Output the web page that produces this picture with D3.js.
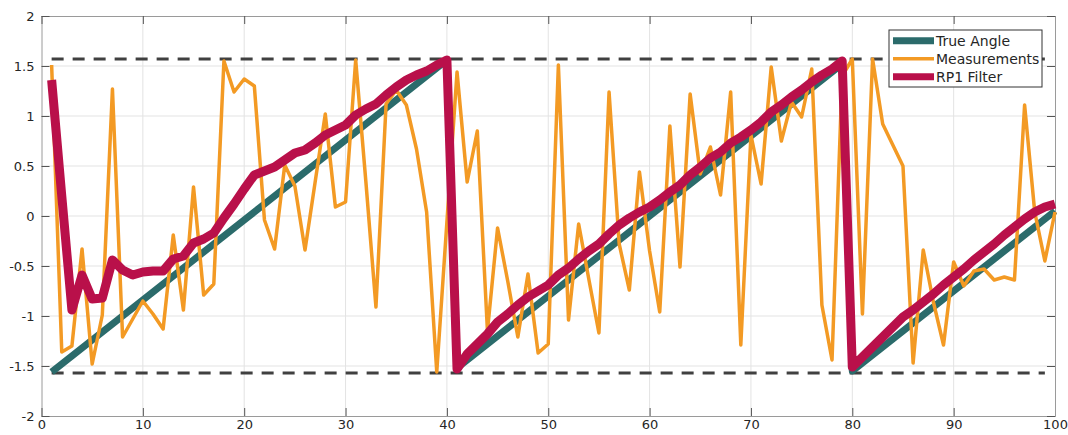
<!DOCTYPE html>
<html>
<head>
<meta charset="utf-8">
<script src="https://cdn.jsdelivr.net/npm/d3@7"></script>
<style>
  body { margin: 0; background: #fff; }
  svg text { font-family: "DejaVu Sans", sans-serif; }
</style>
</head>
<body>
<svg id="chart" width="1068" height="435"></svg>
<script>
// data
const steps = d3.range(1, 101);

const trueAngle = [
  -1.56, -1.48, -1.40, -1.32, -1.24, -1.16, -1.08, -1.00, -0.92, -0.84,
  -0.76, -0.68, -0.60, -0.52, -0.44, -0.36, -0.28, -0.20, -0.12, -0.04,
  0.04, 0.12, 0.20, 0.28, 0.36, 0.44, 0.52, 0.60, 0.68, 0.76,
  0.84, 0.92, 1.00, 1.08, 1.16, 1.24, 1.32, 1.40, 1.48, 1.56,
  -1.52, -1.44, -1.36, -1.28, -1.20, -1.12, -1.04, -0.96, -0.88, -0.80,
  -0.72, -0.64, -0.56, -0.48, -0.40, -0.32, -0.24, -0.16, -0.08, 0.00,
  0.08, 0.16, 0.24, 0.32, 0.40, 0.48, 0.56, 0.64, 0.72, 0.80,
  0.88, 0.96, 1.04, 1.12, 1.20, 1.28, 1.36, 1.44, 1.52, -1.55,
  -1.47, -1.39, -1.31, -1.23, -1.15, -1.07, -0.99, -0.91, -0.83, -0.75,
  -0.67, -0.59, -0.51, -0.43, -0.35, -0.27, -0.19, -0.11, -0.03, 0.05
];

const measurements = [
  1.51, -1.36, -1.30, -0.33, -1.48, -0.99, 1.27, -1.21, -1.03, -0.85,
  -0.98, -1.13, -0.19, -0.94, 0.29, -0.79, -0.68, 1.55, 1.24, 1.37,
  1.30, -0.04, -0.33, 0.51, 0.30, -0.34, 0.34, 1.02, 0.09, 0.14,
  1.56, 0.35, -0.91, 1.12, 1.26, 1.11, 0.67, 0.04, -1.56, -0.06,
  1.44, 0.34, 0.85, -1.15, -0.12, -0.65, -1.21, -0.58, -1.37, -1.28,
  1.51, -1.04, -0.08, -0.63, -1.17, 1.24, -0.28, -0.74, 0.44, -0.35,
  -0.96, 0.90, -0.51, 1.22, 0.42, 0.69, 0.21, 1.24, -1.29, 0.81,
  0.32, 1.49, 0.75, 1.14, 0.99, 1.47, -0.89, -1.44, 1.40, 1.57,
  -0.98, 1.57, 0.92, 0.71, 0.50, -1.47, -0.34, -0.86, -1.29, -0.46,
  -0.70, -0.55, -0.53, -0.64, -0.61, -0.64, 1.11, 0.04, -0.45, 0.04
];

const filtered = [
  1.36, 0.20, -0.94, -0.59, -0.83, -0.82, -0.44, -0.54, -0.59, -0.56,
  -0.55, -0.55, -0.43, -0.40, -0.27, -0.23, -0.17, -0.02, 0.12, 0.27,
  0.41, 0.45, 0.49, 0.56, 0.63, 0.66, 0.73, 0.81, 0.86, 0.91,
  1.01, 1.07, 1.12, 1.21, 1.29, 1.36, 1.41, 1.45, 1.51, 1.56,
  -1.53, -1.38, -1.28, -1.18, -1.06, -0.98, -0.89, -0.81, -0.75, -0.69,
  -0.59, -0.52, -0.43, -0.35, -0.28, -0.18, -0.09, -0.02, 0.04, 0.09,
  0.16, 0.24, 0.31, 0.41, 0.49, 0.58, 0.64, 0.73, 0.79, 0.86,
  0.94, 1.04, 1.11, 1.19, 1.26, 1.34, 1.41, 1.47, 1.55, -1.51,
  -1.41, -1.31, -1.21, -1.11, -1.01, -0.94, -0.86, -0.78, -0.69, -0.61,
  -0.53, -0.44, -0.36, -0.28, -0.19, -0.11, -0.03, 0.04, 0.09, 0.12
];

const bounds = [-Math.PI / 2, Math.PI / 2];
const boundRange = [1, 99];

const xTicks = d3.range(0, 101, 10);
const yTicks = [-2, -1.5, -1, -0.5, 0, 0.5, 1, 1.5, 2];

const legendItems = [
  { label: "True Angle", color: "#2b6b6b", width: 7 },
  { label: "Measurements", color: "#f39a24", width: 3.5 },
  { label: "RP1 Filter", color: "#b9104a", width: 9 }
];

const svg = d3.select("svg#chart");
const margin = { left: 41.5, right: 13, top: 16, bottom: 19 };
const W = 1068, H = 435;

const x = d3.scaleLinear().domain([0, 100]).range([margin.left, W - margin.right]);
const y = d3.scaleLinear().domain([-2, 2]).range([H - margin.bottom, margin.top]);

const tickLen = 8;
const frameColor = "#9a9a9a";
const textColor = "#262626";

// grid
svg.append("g").selectAll("line")
  .data(xTicks.slice(1, -1))
  .join("line")
  .attr("x1", d => x(d)).attr("x2", d => x(d))
  .attr("y1", y(-2)).attr("y2", y(2))
  .attr("stroke", "#e3e3e3").attr("stroke-width", 1);

svg.append("g").selectAll("line")
  .data(yTicks.slice(1, -1))
  .join("line")
  .attr("x1", x(0)).attr("x2", x(100))
  .attr("y1", d => y(d)).attr("y2", d => y(d))
  .attr("stroke", "#e3e3e3").attr("stroke-width", 1);

// axes, MATLAB style box with ticks pointing in
const bottomAxis = d3.axisBottom(x).tickValues(xTicks).tickSize(-tickLen).tickPadding(4).tickFormat(d3.format("d"));
const topAxis = d3.axisTop(x).tickValues(xTicks).tickSize(-tickLen).tickFormat("");
const leftAxis = d3.axisLeft(y).tickValues(yTicks).tickSize(-tickLen).tickPadding(7).tickFormat(d => String(d));
const rightAxis = d3.axisRight(y).tickValues(yTicks).tickSize(-tickLen).tickFormat("");

const styleAxis = g => {
  g.select(".domain").attr("stroke", frameColor);
  g.selectAll(".tick line").attr("stroke", "#555");
  g.selectAll(".tick text").attr("fill", textColor).style("font-size", "13px");
};

svg.append("g").attr("transform", `translate(0,${y(-2)})`).call(bottomAxis).call(styleAxis);
svg.append("g").attr("transform", `translate(0,${y(2)})`).call(topAxis).call(styleAxis);
svg.append("g").attr("transform", `translate(${x(0)},0)`).call(leftAxis).call(styleAxis);
svg.append("g").attr("transform", `translate(${x(100)},0)`).call(rightAxis).call(styleAxis);

// +/- pi/2 bounds
svg.append("g").selectAll("line")
  .data(bounds)
  .join("line")
  .attr("x1", x(boundRange[0])).attr("x2", x(boundRange[1]))
  .attr("y1", d => y(d)).attr("y2", d => y(d))
  .attr("stroke", "#404040")
  .attr("stroke-width", 3)
  .attr("stroke-dasharray", "12,9");

const line = d3.line().x((d, i) => x(steps[i])).y(d => y(d));

const series = [
  { values: trueAngle, item: legendItems[0] },
  { values: measurements, item: legendItems[1] },
  { values: filtered, item: legendItems[2] }
];

svg.append("g").selectAll("path")
  .data(series)
  .join("path")
  .attr("d", d => line(d.values))
  .attr("fill", "none")
  .attr("stroke", d => d.item.color)
  .attr("stroke-width", d => d.item.width)
  .attr("stroke-linejoin", "round");

// legend
const legend = svg.append("g").attr("transform", "translate(889,30)");
legend.append("rect")
  .attr("width", 153).attr("height", 57)
  .attr("fill", "#fff").attr("stroke", "#333").attr("stroke-width", 1);

const rows = legend.selectAll("g")
  .data(legendItems)
  .join("g")
  .attr("transform", (d, i) => `translate(0,${10.7 + i * 18})`);

rows.append("line")
  .attr("x1", 4).attr("x2", 45)
  .attr("stroke", d => d.color)
  .attr("stroke-width", d => Math.min(d.width, 7));

rows.append("text")
  .attr("x", 47).attr("y", 5)
  .attr("fill", textColor)
  .style("font-size", "14px")
  .text(d => d.label);
</script>
</body>
</html>
